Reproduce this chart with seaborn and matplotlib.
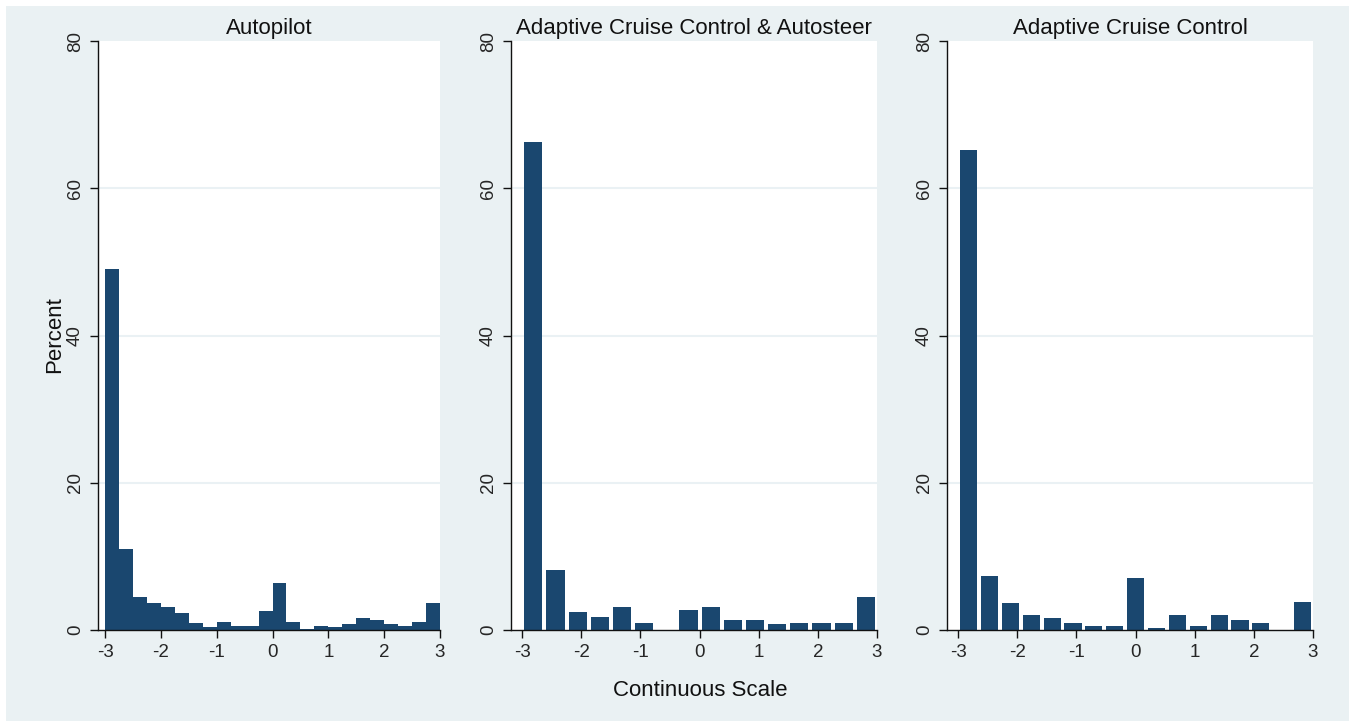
import numpy as np
import pandas as pd
import matplotlib
matplotlib.use("Agg")
import matplotlib.pyplot as plt
import seaborn as sns

# Histogram heights (percent of respondents per bin) on the continuous scale
titles = ["Autopilot", "Adaptive Cruise Control & Autosteer", "Adaptive Cruise Control"]

autopilot_pct = [49.1, 11.0, 4.5, 3.7, 3.1, 2.3, 0.95, 0.4, 1.1, 0.6, 0.6, 2.6,
                 6.4, 1.1, 0.15, 0.6, 0.4, 0.8, 1.6, 1.35, 0.8, 0.6, 1.1, 3.7]
acc_autosteer_pct = [66.3, 8.1, 2.5, 1.75, 3.15, 1.0, 0.0, 2.75, 3.15, 1.4, 1.4,
                     0.75, 1.0, 1.0, 1.0, 4.5]
acc_pct = [65.2, 7.4, 3.6, 2.0, 1.6, 0.95, 0.6, 0.6, 7.1, 0.3, 2.0, 0.6, 2.0,
           1.3, 1.0, 0.0, 3.85]

x_ticks = [-3, -2, -1, 0, 1, 2, 3]
y_ticks = [0, 20, 40, 60, 80]
x_label = "Continuous Scale"
y_label = "Percent"

series = [autopilot_pct, acc_autosteer_pct, acc_pct]

sns.set_style("white")
plt.rcParams["font.family"] = ["Liberation Sans", "DejaVu Sans"]

BAR = "#1A476F"
BG = "#EAF1F3"
GRID = "#EAF1F4"

W, H = 1349, 721
fig = plt.figure(figsize=(W / 100, H / 100), dpi=100, facecolor="white")

# graph region background
fig.patches.append(plt.Rectangle((6 / W, 0), 1 - 6 / W, (H - 6) / H,
                                 transform=fig.transFigure, facecolor=BG,
                                 edgecolor="none", zorder=-10))

# panel placement in pixels: (left, right, xmin, bar shrink)
panels = [(98, 440, -3.126, 1.0), (511, 877, -3.19, 0.82), (947, 1313, -3.19, 0.82)]
top_px, bot_px = 41, 630

for vals, title, (lpx, rpx, xmin, shrink) in zip(series, titles, panels):
    ax = fig.add_axes([lpx / W, (H - bot_px) / H, (rpx - lpx) / W, (bot_px - top_px) / H])
    ax.set_facecolor("white")
    n = len(vals)
    edges = np.linspace(-3, 3, n + 1)
    df = pd.DataFrame({"score": (edges[:-1] + edges[1:]) / 2, "pct": vals})
    for g in y_ticks[1:-1]:
        ax.axhline(g, color=GRID, lw=1.5, zorder=0)
    sns.histplot(data=df, x="score", weights="pct", bins=list(edges), shrink=shrink,
                 color=BAR, alpha=1, linewidth=0, edgecolor="none", ax=ax, zorder=2)
    ax.set_xlim(xmin, 3)
    ax.set_ylim(0, 80)
    ax.set_xticks(x_ticks)
    ax.set_xticklabels([str(t) for t in x_ticks])
    ax.set_yticks(y_ticks)
    ax.set_yticklabels([str(t) for t in y_ticks])
    ax.set_xlabel("")
    ax.set_ylabel("")
    for s in ["top", "right"]:
        ax.spines[s].set_visible(False)
    for s in ["left", "bottom"]:
        ax.spines[s].set_color("#111111")
        ax.spines[s].set_linewidth(1.0)
    ax.tick_params(axis="both", direction="out", length=6, width=1.0,
                   color="#111111", labelsize=13.5, pad=4, left=True, bottom=True)
    for lab in ax.get_yticklabels():
        lab.set_rotation(90)
        lab.set_va("center")
    ax.set_title(title, fontsize=16, pad=5, color="#111111")

fig.text(55 / W, 1 - 335 / H, y_label, rotation=90, ha="center", va="center",
         fontsize=16, color="#111111")
fig.text(700 / W, 1 - 690 / H, x_label, ha="center", va="center",
         fontsize=16, color="#111111")

fig.savefig("out.png", dpi=100, facecolor="white")
